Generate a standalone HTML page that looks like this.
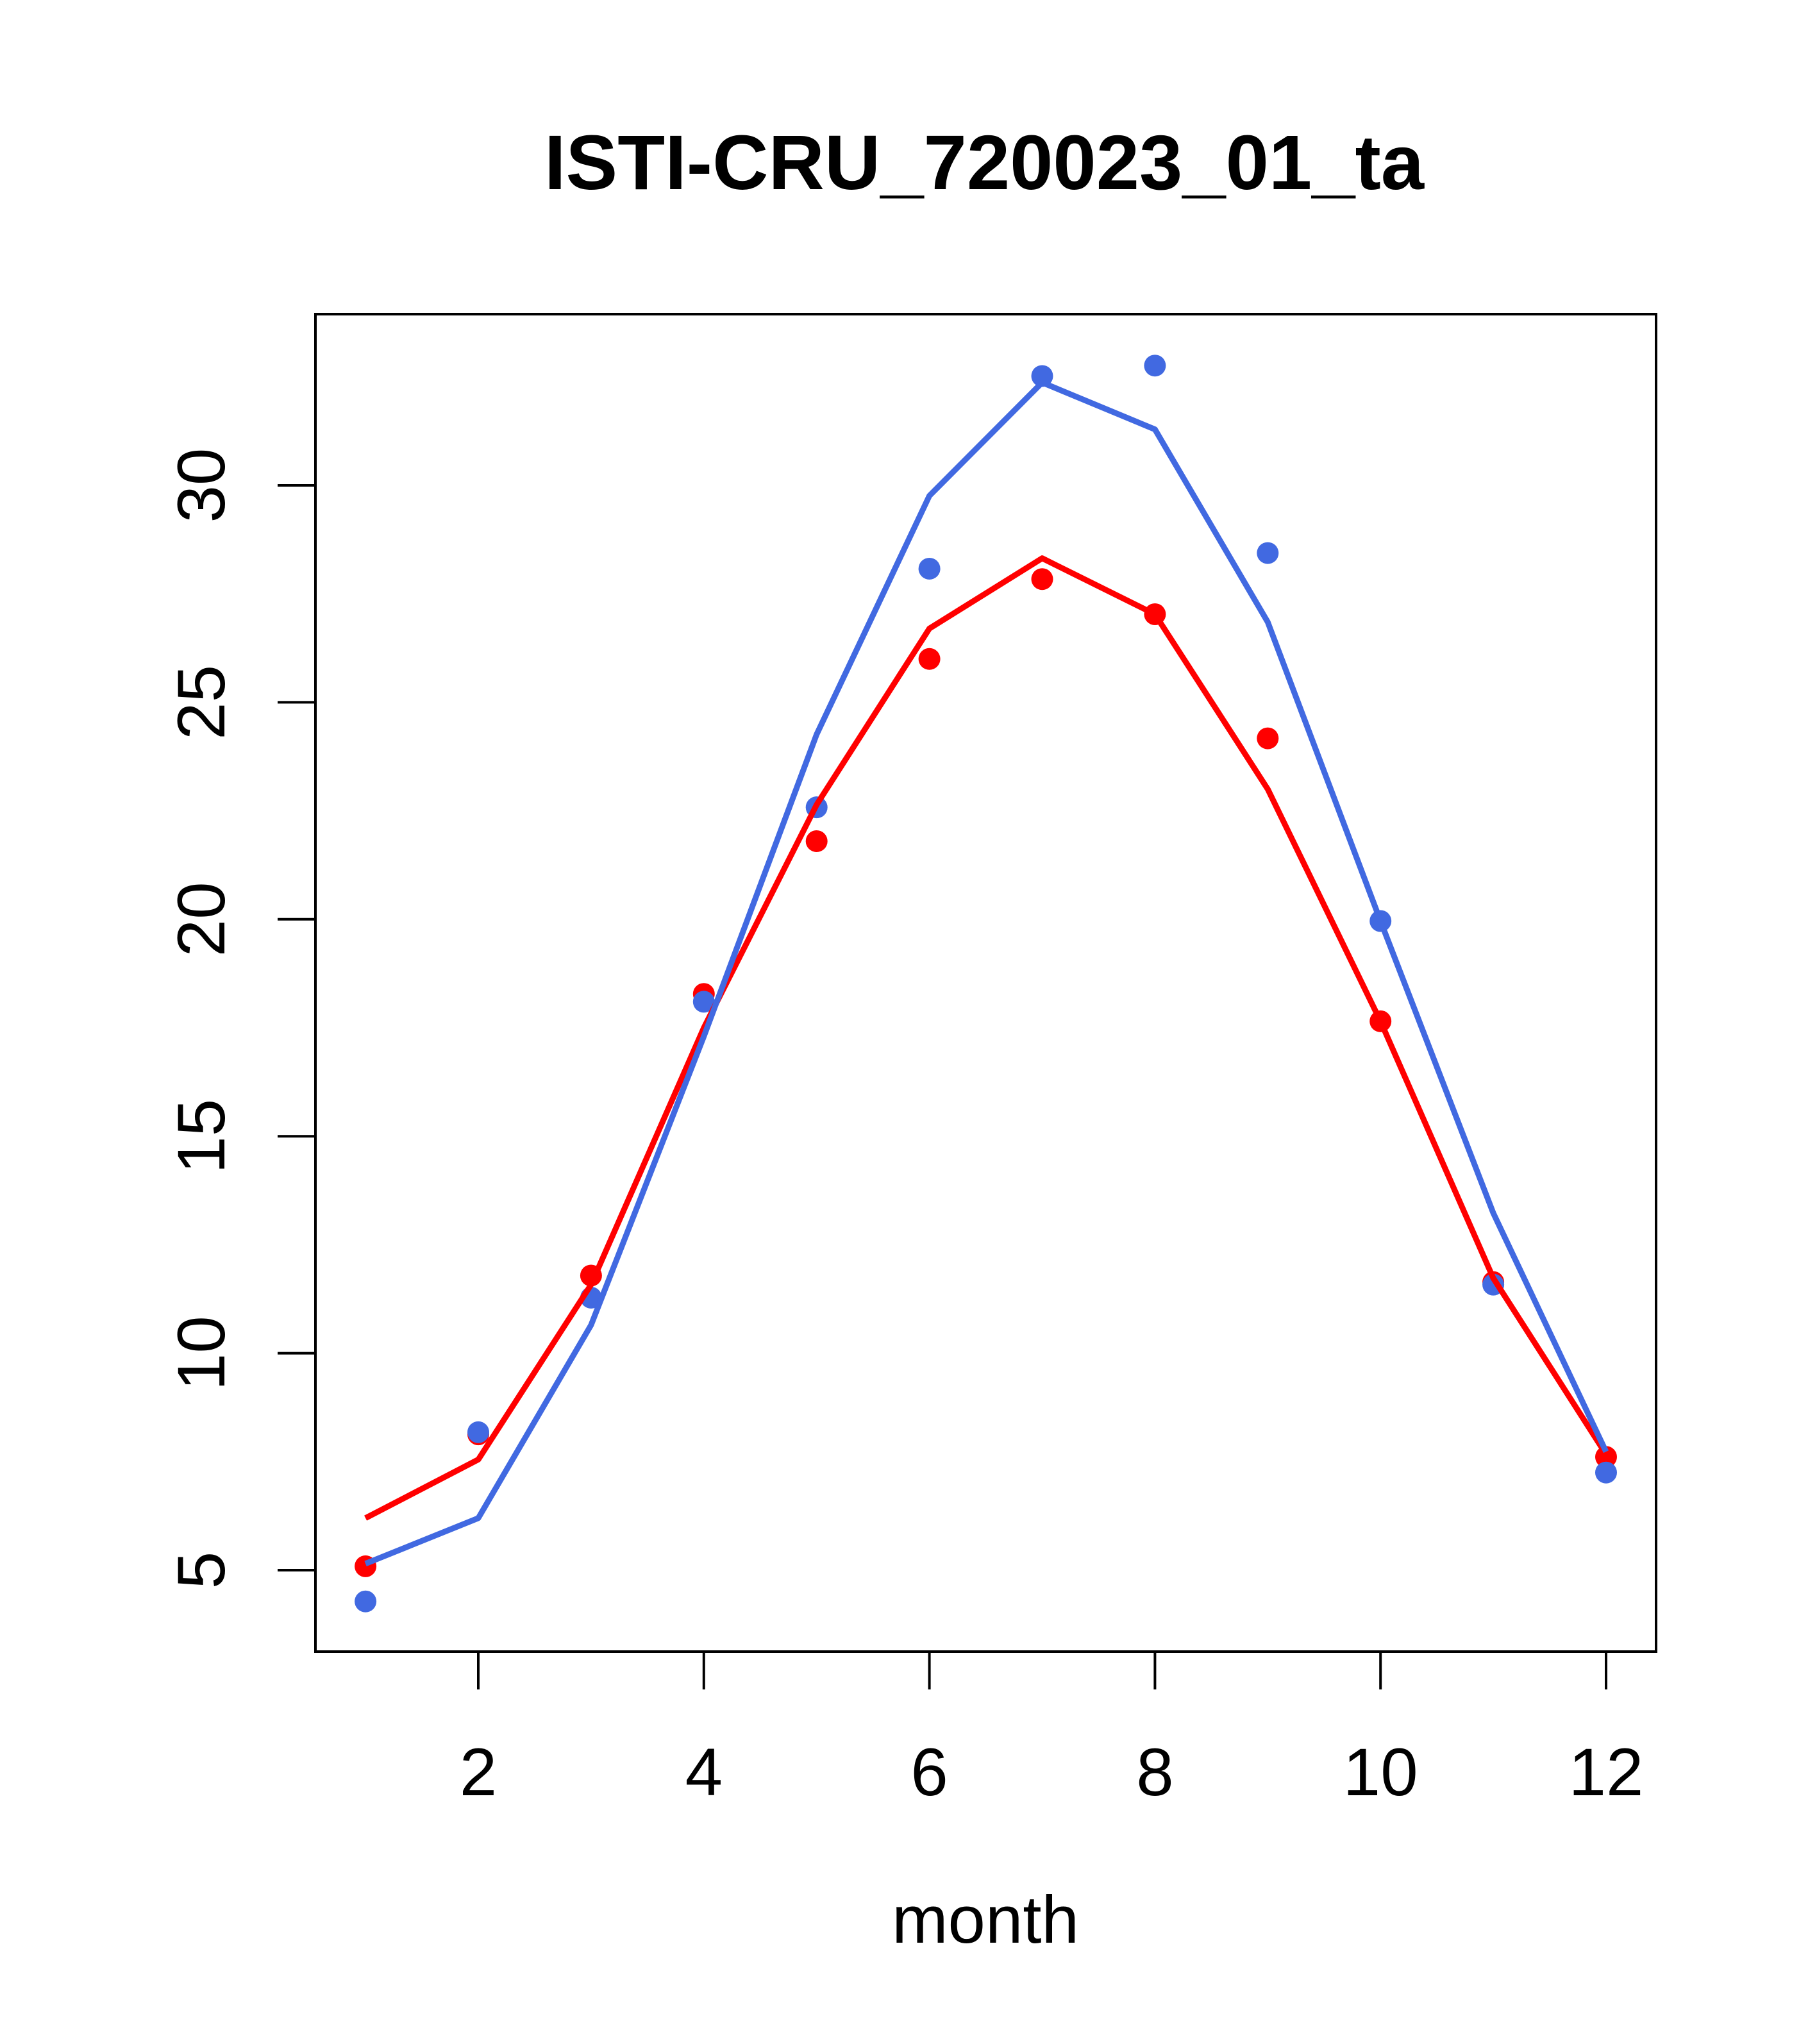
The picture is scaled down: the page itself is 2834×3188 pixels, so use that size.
<!DOCTYPE html>
<html><head><meta charset="utf-8"><style>
html,body{margin:0;padding:0;background:#fff;}
svg{display:block;font-family:"Liberation Sans",Arial,sans-serif;}
</style></head><body>
<svg id="chart" width="2834" height="3188" viewBox="0 0 2834 3188" xmlns="http://www.w3.org/2000/svg">
<rect width="2834" height="3188" fill="#fff"/>
<text x="1535" y="295" font-size="121" font-weight="bold" text-anchor="middle">ISTI-CRU_720023_01_ta</text>
<rect x="492" y="490" width="2091" height="2086" fill="none" stroke="#000" stroke-width="4"/>
<text x="1537" y="3030" font-size="105" text-anchor="middle">month</text>
<g id="axes"></g>
<g id="marks"></g>
</svg>
<script>
const months = [1,2,3,4,5,6,7,8,9,10,11,12];
const redPoints = [5.09,8.13,11.79,18.28,21.8,26.0,27.84,27.03,24.17,17.65,11.64,7.61];
const redLine = [6.2,7.55,11.58,17.5,22.64,26.7,28.32,27.03,23.0,17.65,11.73,7.67];
const bluePoints = [4.28,8.18,11.28,18.1,22.58,28.08,32.52,32.76,28.44,19.96,11.58,7.25];
const blueLine = [5.15,6.2,10.65,17.3,24.26,29.76,32.37,31.29,26.85,19.96,13.23,7.73];
const xTicks = [2,4,6,8,10,12];
const yTicks = [5,10,15,20,25,30];

const NS = "http://www.w3.org/2000/svg";
function x(v){ return 746 + (v-2)*(2505-746)/10; }
function y(v){ return 2449 - (v-5)*(2449-757)/25; }
function mk(tag, attrs, parent){
  const e = document.createElementNS(NS, tag);
  for (const k in attrs) e.setAttribute(k, attrs[k]);
  parent.appendChild(e);
  return e;
}
const axes = document.getElementById('axes');
const marks = document.getElementById('marks');

const xl = mk('line',{x1:x(2),x2:x(12),y1:2576,y2:2576,stroke:'#000','stroke-width':4},axes);


xTicks.forEach(t=>{
  const tk = mk('line',{x1:x(t),x2:x(t),y1:2576,y2:2635,stroke:'#000','stroke-width':4},axes);
  
  
  const tl = mk('text',{x:x(t),y:2800,'font-size':105,'text-anchor':'middle'},axes);
  tl.textContent = t;
  
  
});
const yl = mk('line',{x1:492,x2:492,y1:y(5),y2:y(30),stroke:'#000','stroke-width':4},axes);


yTicks.forEach(t=>{
  const tk = mk('line',{x1:433,x2:492,y1:y(t),y2:y(t),stroke:'#000','stroke-width':4},axes);
  
  
  const tl = mk('text',{x:350,y:y(t),'font-size':105,'text-anchor':'middle',transform:'rotate(-90 350 '+y(t)+')'},axes);
  tl.textContent = t;
  
  
});

function drawLine(vals, color, name){
  const pts = vals.map((v,i)=>x(months[i])+','+y(v)).join(' ');
  const p = mk('polyline',{points:pts,fill:'none',stroke:color,'stroke-width':9,'stroke-linejoin':'round'},marks);
  
  
}
function drawPoints(vals, color, name){
  vals.forEach((v,i)=>{
    const c = mk('circle',{cx:x(months[i]),cy:y(v),r:17,fill:color},marks);
    
    
  });
}
drawPoints(redPoints,'#ff0000','red-point');
drawPoints(bluePoints,'#4169e1','blue-point');
drawLine(redLine,'#ff0000','red-line');
drawLine(blueLine,'#4169e1','blue-line');
</script>
</body></html>
